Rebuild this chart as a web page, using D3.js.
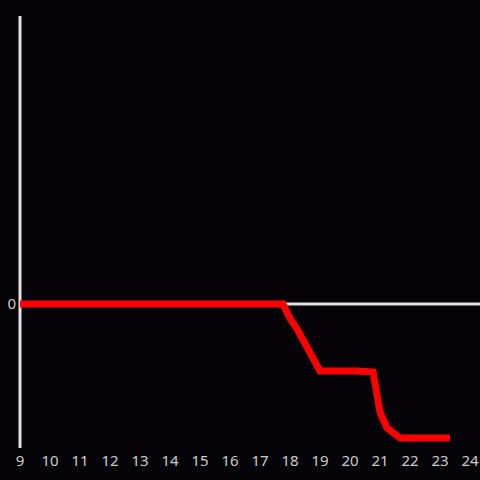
<!DOCTYPE html>
<html>
<head>
<meta charset="utf-8">
<script src="https://cdn.jsdelivr.net/npm/d3@7"></script>
<style>
  html, body { margin: 0; padding: 0; background: #050307; }
  svg { display: block; }
</style>
</head>
<body>
<div id="chart"></div>
<script>
const bg = "#050307";
const axisColor = "#e0e0e0";
const labelColor = "#cccccc";
const lineColor = "#ff0000";

// hours of the day
const hours = [9, 17.77, 18.0, 18.23, 19.0, 20.23, 20.77, 21.0, 21.23, 21.67, 23.33];
const values = [0, 0, -10, -17, -46.5, -46.5, -47.2, -75, -86, -93, -93];
const xTicks = [9, 10, 11, 12, 13, 14, 15, 16, 17, 18, 19, 20, 21, 22, 23, 24];
const yTicks = [0];

const width = 480, height = 480;
const margin = { top: 16, right: 10, bottom: 32, left: 20 };

const svg = d3.select("#chart").append("svg")
  .attr("width", width)
  .attr("height", height)
  .style("background", bg);

const x = d3.scaleLinear()
  .domain([9, 24])
  .range([margin.left, width - margin.right]);

const y = d3.scaleLinear()
  .domain([-100, 200])
  .range([height - margin.bottom, margin.top]);

// zero line
svg.append("line")
  .attr("x1", x(9)).attr("x2", width)
  .attr("y1", y(0)).attr("y2", y(0))
  .attr("stroke", axisColor)
  .attr("stroke-width", 3);

// y axis line
svg.append("line")
  .attr("x1", x(9)).attr("x2", x(9))
  .attr("y1", y(200)).attr("y2", y(-100))
  .attr("stroke", axisColor)
  .attr("stroke-width", 3);

// y tick label
svg.selectAll(".ytick")
  .data(yTicks)
  .enter()
  .append("text")
  .attr("x", x(9) - 4)
  .attr("y", d => y(d))
  .attr("dy", "0.35em")
  .attr("text-anchor", "end")
  .attr("fill", labelColor)
  .style("font", "15px 'Noto Sans', sans-serif")
  .text(d => d);

// x tick labels
svg.selectAll(".xtick")
  .data(xTicks)
  .enter()
  .append("text")
  .attr("x", d => x(d))
  .attr("y", height - 14)
  .attr("text-anchor", "middle")
  .attr("fill", labelColor)
  .style("font", "15px 'Noto Sans', sans-serif")
  .text(d => d);

// red line
const line = d3.line()
  .x((d, i) => x(hours[i]))
  .y(d => y(d));

svg.append("path")
  .datum(values)
  .attr("d", line)
  .attr("fill", "none")
  .attr("stroke", lineColor)
  .attr("stroke-width", 7)
  .attr("stroke-linejoin", "miter");
</script>
</body>
</html>
